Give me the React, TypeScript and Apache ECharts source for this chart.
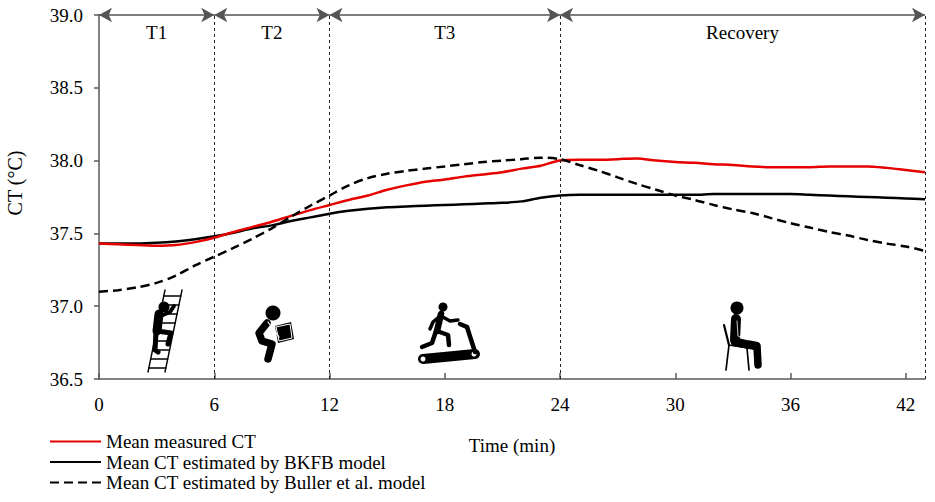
import React, { useEffect, useRef } from "react";
import * as echarts from "echarts";

const minutes = Array.from({ length: 44 }, (_, i) => i);

const measuredCT = [
  37.43, 37.425, 37.42, 37.415, 37.42, 37.44, 37.47, 37.51, 37.545, 37.58,
  37.62, 37.66, 37.695, 37.73, 37.76, 37.8, 37.83, 37.855, 37.87, 37.89,
  37.905, 37.92, 37.945, 37.965, 38.0, 38.005, 38.005, 38.01, 38.015, 38.0,
  37.99, 37.985, 37.975, 37.97, 37.96, 37.955, 37.955, 37.955, 37.96, 37.96,
  37.96, 37.95, 37.935, 37.92,
];

const bkfbCT = [
  37.43, 37.43, 37.43, 37.435, 37.445, 37.46, 37.48, 37.505, 37.535, 37.555,
  37.585, 37.61, 37.635, 37.655, 37.67, 37.68, 37.685, 37.69, 37.695, 37.7,
  37.705, 37.71, 37.72, 37.745, 37.76, 37.765, 37.765, 37.765, 37.765, 37.765,
  37.765, 37.765, 37.77, 37.77, 37.77, 37.77, 37.77, 37.765, 37.76, 37.755,
  37.75, 37.745, 37.74, 37.735,
];

const bullerCT = [
  37.1, 37.11, 37.13, 37.16, 37.21, 37.28, 37.34, 37.4, 37.465, 37.535,
  37.615, 37.69, 37.76, 37.83, 37.88, 37.91, 37.93, 37.945, 37.96, 37.975,
  37.99, 38.0, 38.01, 38.02, 38.01, 37.97, 37.93, 37.885, 37.84, 37.8,
  37.76, 37.73, 37.695, 37.665, 37.64, 37.605, 37.57, 37.54, 37.51, 37.485,
  37.455, 37.43, 37.41, 37.38,
];

const seriesNames = [
  "Mean measured CT",
  "Mean CT estimated by BKFB model",
  "Mean CT estimated by Buller et al. model",
];

const phaseNames = ["T1", "T2", "T3", "Recovery"];
const phaseBounds = [0, 6, 12, 24, 43];

const xTicks = { min: 0, max: 43, interval: 6 };
const yTicks = { min: 36.5, max: 39, interval: 0.5 };

const FONT = "'Liberation Serif', 'Times New Roman', serif";
const AXIS = "#595959";
const INK = "#000";

function pl(points: number[][], w: number, color = INK) {
  return {
    type: "polyline",
    silent: true,
    shape: { points },
    style: { stroke: color, lineWidth: w, lineCap: "round", lineJoin: "round", fill: null },
  };
}
function dot(cx: number, cy: number, r: number, color = INK) {
  return { type: "circle", silent: true, shape: { cx, cy, r }, style: { fill: color } };
}
function poly(points: number[][], color = INK) {
  return { type: "polygon", silent: true, shape: { points }, style: { fill: color } };
}

function ladderIcon() {
  const els: any[] = [];
  const railL = (y: number) => 165 - ((y - 290) * 17) / 82;
  els.push(pl([[165, 290], [148, 372]], 1.4));
  els.push(pl([[182, 290], [165, 372]], 1.4));
  for (let y = 296; y <= 368; y += 9) {
    els.push(pl([[railL(y), y], [railL(y) + 17, y]], 1.4));
  }
  els.push(dot(164, 307, 5.5));
  els.push(pl([[159, 314], [157, 331]], 9));
  els.push(pl([[163, 315], [170, 312], [174, 306]], 4));
  els.push(pl([[157, 331], [171, 333], [168, 344]], 5));
  els.push(pl([[156, 332], [155, 350], [158, 352]], 5));
  return els;
}

function boxIcon() {
  const els: any[] = [];
  els.push(dot(273, 313, 7.5));
  els.push(pl([[267, 323], [259, 333], [262, 341], [272, 344], [268, 359]], 7.5));
  els.push(poly([[275, 326], [291, 322], [294, 339], [278, 343]]));
  els.push(pl([[268, 322], [279, 337]], 1.2, "#fff"));
  els.push(pl([[276, 327], [290, 324], [292, 338], [279, 341], [276, 327]], 1, "#fff"));
  return els;
}

function treadmillIcon() {
  const els: any[] = [];
  els.push(pl([[423, 359], [475, 354]], 10));
  els.push(dot(423, 359, 2.5, "#fff"));
  els.push(dot(474, 354, 2.5, "#fff"));
  els.push(pl([[475, 352], [467, 327]], 4.5));
  els.push(pl([[467, 327], [460, 324]], 4.5));
  els.push(dot(443, 307, 4.5));
  els.push(pl([[441, 314], [437, 331]], 6.5));
  els.push(pl([[441, 316], [450, 321], [458, 320]], 3.5));
  els.push(pl([[440, 316], [433, 322], [430, 329]], 3.5));
  els.push(pl([[437, 331], [448, 335], [449, 345]], 4.5));
  els.push(pl([[436, 331], [432, 343], [422, 347]], 4.5));
  return els;
}

function sittingIcon() {
  const els: any[] = [];
  els.push(dot(737, 308, 6.5));
  els.push(pl([[724, 325], [729, 345]], 2.2));
  els.push(pl([[729, 345], [748, 348]], 1.5));
  els.push(pl([[729, 345], [726, 370]], 1.7));
  els.push(pl([[747, 348], [749, 370]], 1.7));
  els.push(pl([[736, 319], [735, 340]], 10));
  els.push(pl([[735, 342], [756, 346]], 8.5));
  els.push(pl([[757, 346], [758, 365]], 7.5));
  els.push(pl([[737, 321], [738, 336], [748, 340]], 0.8, "#fff"));
  return els;
}

export default function App() {
  const ref = useRef<HTMLDivElement>(null);

  useEffect(() => {
    if (!ref.current) return;
    const chart = echarts.init(ref.current, null, { renderer: "svg" });

    const toPairs = (arr: number[]) => minutes.map((m, i) => [m, arr[i]]);

    const dividerLines = phaseBounds.slice(1).map((b) => [
      { coord: [b, yTicks.min] },
      { coord: [b, yTicks.max] },
    ]);

    const arrowLines = phaseNames.map((n, i) => [
      { coord: [phaseBounds[i], yTicks.max], name: n },
      { coord: [phaseBounds[i + 1], yTicks.max] },
    ]);

    chart.setOption({
      animation: false,
      textStyle: { fontFamily: FONT },
      grid: { left: 99, top: 15, right: 10, bottom: 123, containLabel: false },
      xAxis: {
        type: "value",
        min: xTicks.min,
        max: xTicks.max,
        interval: xTicks.interval,
        name: "Time (min)",
        nameLocation: "middle",
        nameGap: 57,
        nameTextStyle: { fontFamily: FONT, fontSize: 19, color: INK },
        axisLine: { show: true, onZero: false, lineStyle: { color: AXIS, width: 1.5 } },
        axisTick: { show: true, inside: true, length: 6, lineStyle: { color: AXIS, width: 1.5 } },
        axisLabel: { fontFamily: FONT, fontSize: 19, color: INK, margin: 16, showMaxLabel: false },
        splitLine: { show: false },
      },
      yAxis: {
        type: "value",
        min: yTicks.min,
        max: yTicks.max,
        interval: yTicks.interval,
        axisLine: { show: true, lineStyle: { color: AXIS, width: 1.5 } },
        axisTick: { show: true, inside: false, length: 5, lineStyle: { color: AXIS, width: 1.5 } },
        axisLabel: {
          fontFamily: FONT,
          fontSize: 19,
          color: INK,
          margin: 16,
          formatter: (v: number) => v.toFixed(1),
        },
        splitLine: { show: false },
      },
      legend: {
        orient: "vertical",
        left: 49,
        top: 432,
        itemWidth: 51,
        itemHeight: 12,
        itemGap: 1.5,
        padding: 0,
        itemStyle: { opacity: 0 },
        textStyle: { fontFamily: FONT, fontSize: 19, color: INK },
        data: seriesNames,
      },
      series: [
        {
          name: seriesNames[0],
          type: "line",
          data: toPairs(measuredCT),
          symbol: "none",
          smooth: 0.3,
          z: 4,
          lineStyle: { color: "#e60000", width: 2.5 },
          itemStyle: { color: "#e60000" },
          markLine: {
            silent: true,
            symbol: ["none", "none"],
            label: { show: false },
            lineStyle: { color: "#222", width: 1, type: [3, 3] },
            data: dividerLines,
          },
        },
        {
          name: seriesNames[1],
          type: "line",
          data: toPairs(bkfbCT),
          symbol: "none",
          smooth: 0.3,
          z: 3,
          lineStyle: { color: "#000", width: 2.5 },
          itemStyle: { color: "#000" },
          markLine: {
            silent: true,
            symbol: ["arrow", "arrow"],
            symbolSize: [11, 13],
            lineStyle: { color: "#555", width: 1.5, type: "solid" },
            itemStyle: { color: "#000" },
            label: {
              show: true,
              position: "insideMiddleBottom",
              distance: 8,
              formatter: "{b}",
              fontFamily: FONT,
              fontSize: 19,
              color: INK,
            },
            data: arrowLines,
          },
        },
        {
          name: seriesNames[2],
          type: "line",
          data: toPairs(bullerCT),
          symbol: "none",
          smooth: 0.3,
          z: 5,
          lineStyle: { color: "#000", width: 2.5, type: [9, 5] },
          itemStyle: { color: "#000" },
        },
      ],
      graphic: [
        {
          type: "text",
          silent: true,
          x: 15,
          y: 183,
          rotation: Math.PI / 2,
          style: {
            text: "CT (°C)",
            font: `20px ${FONT}`,
            fill: INK,
            align: "center",
            verticalAlign: "middle",
          },
        },
        ...ladderIcon(),
        ...boxIcon(),
        ...treadmillIcon(),
        ...sittingIcon(),
      ],
    });

    return () => chart.dispose();
  }, []);

  return (
    <div
      ref={ref}
      style={{ position: "absolute", left: 0, top: 0, width: 935, height: 502, background: "#fff" }}
    />
  );
}
